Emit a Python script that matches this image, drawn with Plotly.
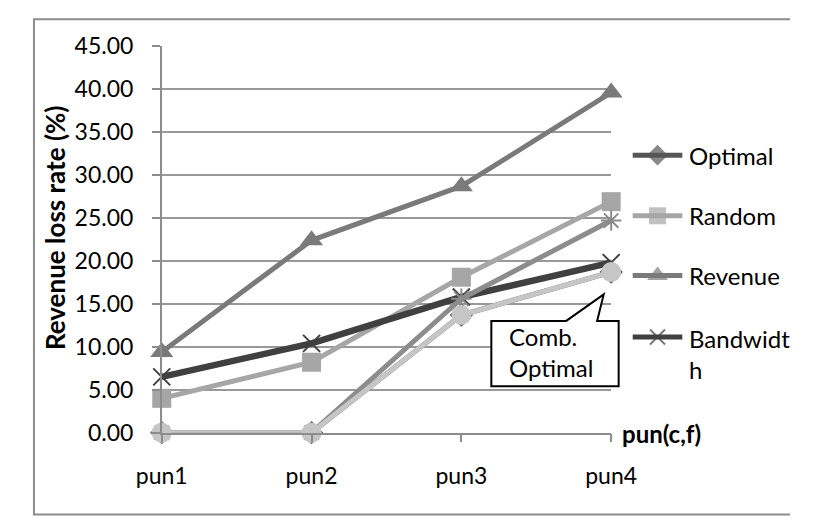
import plotly.graph_objects as go

# Category labels and series values (revenue loss rate, %)
categories = ["pun1", "pun2", "pun3", "pun4"]
optimal = [0.0, 0.0, 13.7, 18.7]
random_sel = [4.0, 8.2, 18.1, 26.9]
revenue = [9.4, 22.4, 28.7, 39.6]
bandwidth = [6.5, 10.4, 15.8, 19.8]
combined = [0.0, 0.0, 15.6, 24.7]
comb_optimal = [0.0, 0.0, 13.7, 18.7]

legend_names = ["Optimal", "Random", "Revenue", "Bandwidt<br>h"]

W, H = 816, 529
FONT = "Lato"

# plot area in pixels
PX0, PX1 = 145, 625
PY_TOP, PY_BOT = 33, 441

xi = list(range(len(categories)))

styles = [
    dict(name="Optimal", y=optimal, color="#555555", symbol="diamond", size=18, lw=5),
    dict(name="Random", y=random_sel, color="#a6a6a6", symbol="square", size=19, lw=5),
    dict(name="Revenue", y=revenue, color="#7a7a7a", symbol="triangle-up", size=20, lw=5),
    dict(name="Bandwidth", y=bandwidth, color="#404040", symbol="x-thin", size=17, lw=6.5),
    dict(name="Combined", y=combined, color="#8c8c8c", symbol="asterisk", size=17, lw=5),
    dict(name="Comb. Optimal", y=comb_optimal, color="#c6c6c6", symbol="circle", size=20, lw=5),
]

fig = go.Figure()

for s in styles:
    line_only = s["symbol"] in ("x-thin", "asterisk")
    fig.add_trace(go.Scatter(
        x=xi, y=s["y"], mode="lines+markers", name=s["name"],
        line=dict(color=s["color"], width=s["lw"]),
        marker=dict(symbol=s["symbol"], size=s["size"], color=s["color"],
                    line=dict(color=s["color"], width=2 if line_only else 0)),
        cliponaxis=False, showlegend=False, xaxis="x", yaxis="y",
    ))

# hand-placed legend on a pixel-scaled overlay axis
leg_rows = [148, 212, 275, 340]
for s, ly in zip(styles[:4], leg_rows):
    line_only = s["symbol"] in ("x-thin", "asterisk")
    fig.add_trace(go.Scatter(
        x=[648, 674.5, 701], y=[ly, ly, ly], mode="lines+markers",
        line=dict(color=s["color"], width=5),
        marker=dict(symbol=s["symbol"], size=[0, s["size"] - 2, 0], color=s["color"],
                    line=dict(color=s["color"], width=2 if line_only else 0)),
        showlegend=False, hoverinfo="skip", xaxis="x2", yaxis="y2", cliponaxis=False,
    ))

annotations = []
for name, ly in zip(legend_names, leg_rows):
    two_line = "<br>" in name
    annotations.append(dict(
        x=706, y=ly - 16 if two_line else ly, xref="x2", yref="y2", text=name,
        showarrow=False, xanchor="left", yanchor="top" if two_line else "middle",
        align="left", font=dict(family=FONT, size=24, color="#000000"),
    ))

# axis titles
annotations.append(dict(
    x=634, y=442, xref="x2", yref="y2", text="<b>pun(c,f)</b>", showarrow=False,
    xanchor="left", yanchor="middle", font=dict(family=FONT, size=24, color="#000000"),
))
annotations.append(dict(
    x=31, y=225, xref="x2", yref="y2", text="<b>Revenue loss rate (%)</b>", showarrow=False,
    textangle=-90, xanchor="center", yanchor="middle",
    font=dict(family=FONT, size=26, color="#000000"),
))

# callout label (two lines in one text block)
annotations.append(dict(
    x=514, y=356, xref="x2", yref="y2", text="Comb.<br>Optimal", showarrow=False,
    xanchor="left", yanchor="middle", align="left",
    font=dict(family=FONT, size=24, color="#000000"),
))

shapes = [
    # outer chart border
    dict(type="rect", xref="x2", yref="y2", x0=8.5, y0=4.5, x1=830, y1=527.5,
         line=dict(color="#8c8c8c", width=2), fillcolor="rgba(0,0,0,0)", layer="below"),
    # callout box with pointer
    dict(type="path", xref="x2", yref="y2",
         path="M497,323 L577,323 L617,295 L610,323 L633,323 L633,392 L497,392 Z",
         line=dict(color="#000000", width=2), fillcolor="#ffffff", layer="above"),
]

fig.update_layout(
    width=W, height=H,
    margin=dict(l=0, r=0, t=0, b=0),
    paper_bgcolor="#ffffff", plot_bgcolor="rgba(0,0,0,0)",
    showlegend=False,
    font=dict(family=FONT, size=23, color="#000000"),
    xaxis=dict(
        domain=[PX0 / W, PX1 / W], range=[0, 3], anchor="y",
        tickmode="array", tickvals=xi, ticktext=categories,
        showgrid=False, zeroline=False, showline=True, linecolor="#8c8c8c", linewidth=1.5,
        ticks="outside", ticklen=8, tickcolor="#8c8c8c", tickwidth=1.5,
        tickfont=dict(family=FONT, size=23, color="#000000"), ticklabelstandoff=14,
    ),
    yaxis=dict(
        domain=[1 - PY_BOT / H, 1 - PY_TOP / H], range=[0, 45], anchor="x",
        dtick=5, tick0=0, tickformat=".2f",
        showgrid=True, gridcolor="#999999", gridwidth=1.5,
        zeroline=False, showline=True, linecolor="#8c8c8c", linewidth=1.5,
        ticks="outside", ticklen=8, tickcolor="#8c8c8c", tickwidth=1.5,
        tickfont=dict(family=FONT, size=23, color="#000000"), ticklabelstandoff=14,
    ),
    xaxis2=dict(domain=[0, 1], range=[0, W], anchor="y2", visible=False, fixedrange=True),
    yaxis2=dict(domain=[0, 1], range=[H, 0], anchor="x2", visible=False, fixedrange=True),
    annotations=annotations,
    shapes=shapes,
)

fig.write_html("out.html")
